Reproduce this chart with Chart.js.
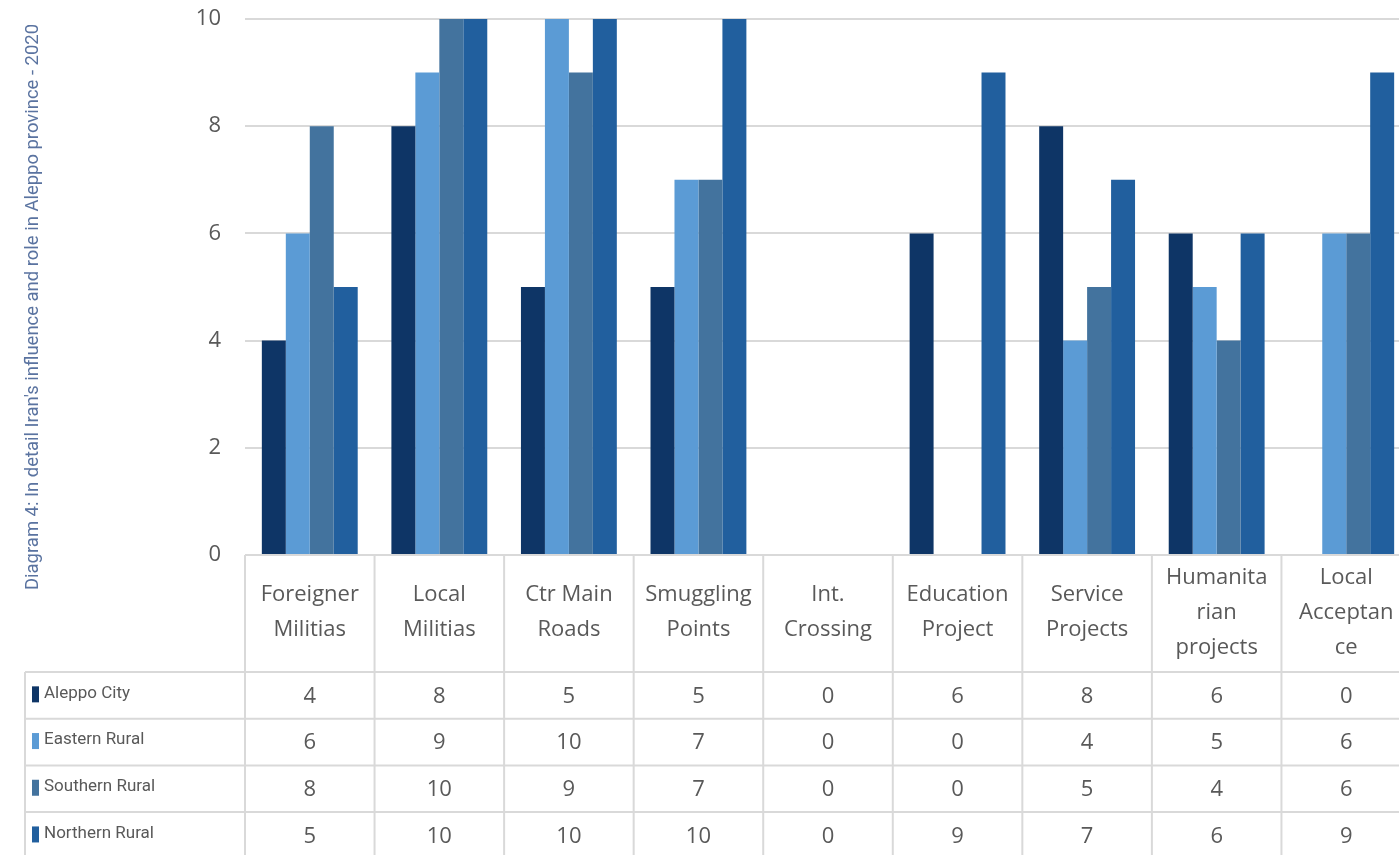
<!DOCTYPE html>
<html>
<head>
<meta charset="utf-8">
<script src="https://cdn.jsdelivr.net/npm/chart.js@4/dist/chart.umd.min.js"></script>
<style>
  html, body { margin: 0; padding: 0; background: #fff; overflow: hidden; }
  canvas { display: block; }
</style>
</head>
<body>
<canvas id="chart" width="1412" height="855"></canvas>
<script>
const title = "Diagram 4: In detail Iran's influence and role in Aleppo province - 2020";

const categories = [
    ['Foreigner', 'Militias'],
    ['Local', 'Militias'],
    ['Ctr Main', 'Roads'],
    ['Smuggling', 'Points'],
    ['Int.', 'Crossing'],
    ['Education', 'Project'],
    ['Service', 'Projects'],
    ['Humanita', 'rian', 'projects'],
    ['Local', 'Acceptan', 'ce'],
];

const seriesNames = ['Aleppo City', 'Eastern Rural', 'Southern Rural', 'Northern Rural'];
const aleppoCity    = [4, 8, 5, 5, 0, 6, 8, 6, 0];
const easternRural  = [6, 9, 10, 7, 0, 0, 4, 5, 6];
const southernRural = [8, 10, 9, 7, 0, 0, 5, 4, 6];
const northernRural = [5, 10, 10, 10, 0, 9, 7, 6, 9];
const seriesColors = ['#0e3566', '#5b9bd5', '#43739e', '#215f9e'];

const yTicks = [0, 2, 4, 6, 8, 10];

const gridColor = '#d9d9d9';
const textColor = '#595959';

// data table under the plot + vertical title on the left
const tablePlugin = {
    id: 'dataTable',
    afterDraw(chart) {
        const { ctx, chartArea, scales } = chart;
        const x = scales.x;
        const top = chartArea.bottom;
        const headerBottom = 672;
        const rowH = 46.7;
        const left = 25;
        const colW = (chartArea.right - chartArea.left) / categories.length;

        ctx.save();
        ctx.strokeStyle = gridColor;
        ctx.lineWidth = 2;

        // horizontal lines
        ctx.beginPath();
        ctx.moveTo(chartArea.left, top);
        ctx.lineTo(chart.width, top);
        for (let r = 0; r < 4; r++) {
            const y = headerBottom + r * rowH;
            ctx.moveTo(left, y);
            ctx.lineTo(chart.width, y);
        }
        // vertical lines
        ctx.moveTo(left, headerBottom);
        ctx.lineTo(left, chart.height);
        for (let i = 0; i <= categories.length; i++) {
            const cx = x.getPixelForValue(i) - colW / 2;
            ctx.moveTo(cx, top);
            ctx.lineTo(cx, chart.height);
        }
        ctx.stroke();

        // category labels
        ctx.fillStyle = textColor;
        ctx.textAlign = 'center';
        ctx.textBaseline = 'middle';
        ctx.font = '22px "Open Sans"';
        categories.forEach((lines, i) => {
            const cx = x.getPixelForValue(i);
            const lh = 35;
            const mid = (top + headerBottom) / 2 - 1;
            const start = mid - (lines.length - 1) * lh / 2;
            lines.forEach((t, j) => ctx.fillText(t, cx, start + j * lh));
        });

        // rows
        chart.data.datasets.forEach((ds, r) => {
            const yMid = headerBottom + r * rowH + rowH / 2;
            ctx.fillStyle = ds.backgroundColor;
            ctx.fillRect(32, yMid - 9, 7, 16);
            ctx.fillStyle = textColor;
            ctx.textAlign = 'left';
            ctx.font = '17px Roboto';
            ctx.fillText(ds.label, 44, yMid - 2);
            ctx.textAlign = 'center';
            ctx.font = '22px "Open Sans"';
            ds.data.forEach((v, i) => {
                ctx.fillText(String(v), x.getPixelForValue(i), yMid + 1);
            });
        });

        // vertical title
        ctx.translate(33, 307);
        ctx.rotate(-Math.PI / 2);
        ctx.fillStyle = '#5a73a0';
        ctx.font = '19px Roboto';
        ctx.textAlign = 'center';
        ctx.fillText(title, 0, 0, 566);
        ctx.restore();
    }
};

new Chart(document.getElementById('chart'), {
    type: 'bar',
    data: {
        labels: categories.map(c => c.join(' ')),
        datasets: [aleppoCity, easternRural, southernRural, northernRural].map((d, i) => ({
            label: seriesNames[i],
            data: d,
            backgroundColor: seriesColors[i],
            barPercentage: 1,
            categoryPercentage: 0.74,
        })),
    },
    options: {
        responsive: false,
        animation: false,
        layout: {
            padding: { top: 19, bottom: 300, right: 1, left: 0 },
        },
        plugins: {
            legend: { display: false },
            tooltip: { enabled: false },
        },
        scales: {
            x: {
                display: false,
            },
            y: {
                min: 0,
                max: 10,
                afterBuildTicks: (scale) => { scale.ticks = yTicks.map(v => ({ value: v })); },
                afterFit: (scale) => {
                    scale.width = 245;
                    scale.paddingTop = 0;
                    scale.paddingBottom = 0;
                },
                border: { display: false },
                grid: { color: gridColor, lineWidth: 2, drawTicks: false },
                ticks: {
                    color: textColor,
                    padding: 24,
                    font: { family: '"Open Sans"', size: 22 },
                },
            },
        },
    },
    plugins: [tablePlugin],
});
</script>
</body>
</html>
